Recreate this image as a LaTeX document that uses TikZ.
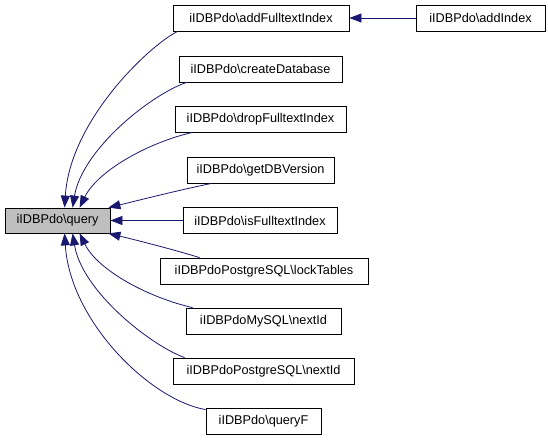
\documentclass[tikz,border=0pt]{standalone}
\usepackage{fontspec}
\setmainfont{Liberation Sans}
\usetikzlibrary{arrows.meta}
\definecolor{edgeblue}{RGB}{25,25,112}
\definecolor{qgray}{RGB}{191,191,191}
\tikzset{
  fn/.style={draw=black, line width=0.8pt, fill=white, minimum height=26pt, inner sep=0pt, font=\fontsize{12.7}{14}\selectfont, anchor=center},
  call/.style={draw=edgeblue, line width=0.8pt, -{Triangle[length=12pt,width=9pt]}},
}
\begin{document}
\begin{tikzpicture}[x=1pt,y=-1pt]
\useasboundingbox (0,0) rectangle (548,443);
\node[fn, fill=qgray, minimum width=105pt, minimum height=25pt] (q) at (57.5,220.5) {iIDBPdo\textbackslash query};
\node[fn, minimum width=176pt] (aft) at (261,18) {iIDBPdo\textbackslash addFulltextIndex};
\node[fn, minimum width=129pt] (ai) at (480.5,18) {iIDBPdo\textbackslash addIndex};
\node[fn, minimum width=163pt] (cd) at (260.5,69) {iIDBPdo\textbackslash createDatabase};
\node[fn, minimum width=171pt] (dft) at (260.5,119) {iIDBPdo\textbackslash dropFulltextIndex};
\node[fn, minimum width=147pt] (gdb) at (260.5,170) {iIDBPdo\textbackslash getDBVersion};
\node[fn, minimum width=154pt] (ift) at (260,220.5) {iIDBPdo\textbackslash isFulltextIndex};
\node[fn, minimum width=208pt] (lt) at (264,271) {iIDBPdoPostgreSQL\textbackslash lockTables};
\node[fn, minimum width=155pt] (mn) at (263.5,321) {iIDBPdoMySQL\textbackslash nextId};
\node[fn, minimum width=181pt] (pn) at (263.5,371) {iIDBPdoPostgreSQL\textbackslash nextId};
\node[fn, minimum width=115pt] (qf) at (263.5,421) {iIDBPdo\textbackslash queryF};

\draw[call] (ai.west) -- (aft.east);
\draw[call] ([xshift=5pt]aft.south west) .. controls (150,45) and (70,120) .. ([xshift=60pt]q.north west);
\draw[call] ([xshift=8pt]cd.south west) .. controls (150,95) and (82,150) .. ([xshift=68pt]q.north west);
\draw[call] ([xshift=18pt]dft.south west) .. controls (150,142) and (98,170) .. ([xshift=75pt]q.north west);
\draw[call] ([xshift=25pt]gdb.south west) .. controls (175,191) and (140,200) .. ([xshift=-2pt]q.north east);
\draw[call] (ift.west) -- (q.east);
\draw[call] ([xshift=40pt]lt.north west) .. controls (175,250) and (140,241) .. ([xshift=-2pt]q.south east);
\draw[call] ([xshift=7pt]mn.north west) .. controls (150,298) and (98,271) .. ([xshift=75pt]q.south west);
\draw[call] ([xshift=12pt]pn.north west) .. controls (150,345) and (82,291) .. ([xshift=68pt]q.south west);
\draw[call] ([yshift=-2pt]qf.north west) .. controls (150,400) and (70,321) .. ([xshift=60pt]q.south west);
\end{tikzpicture}
\end{document}
